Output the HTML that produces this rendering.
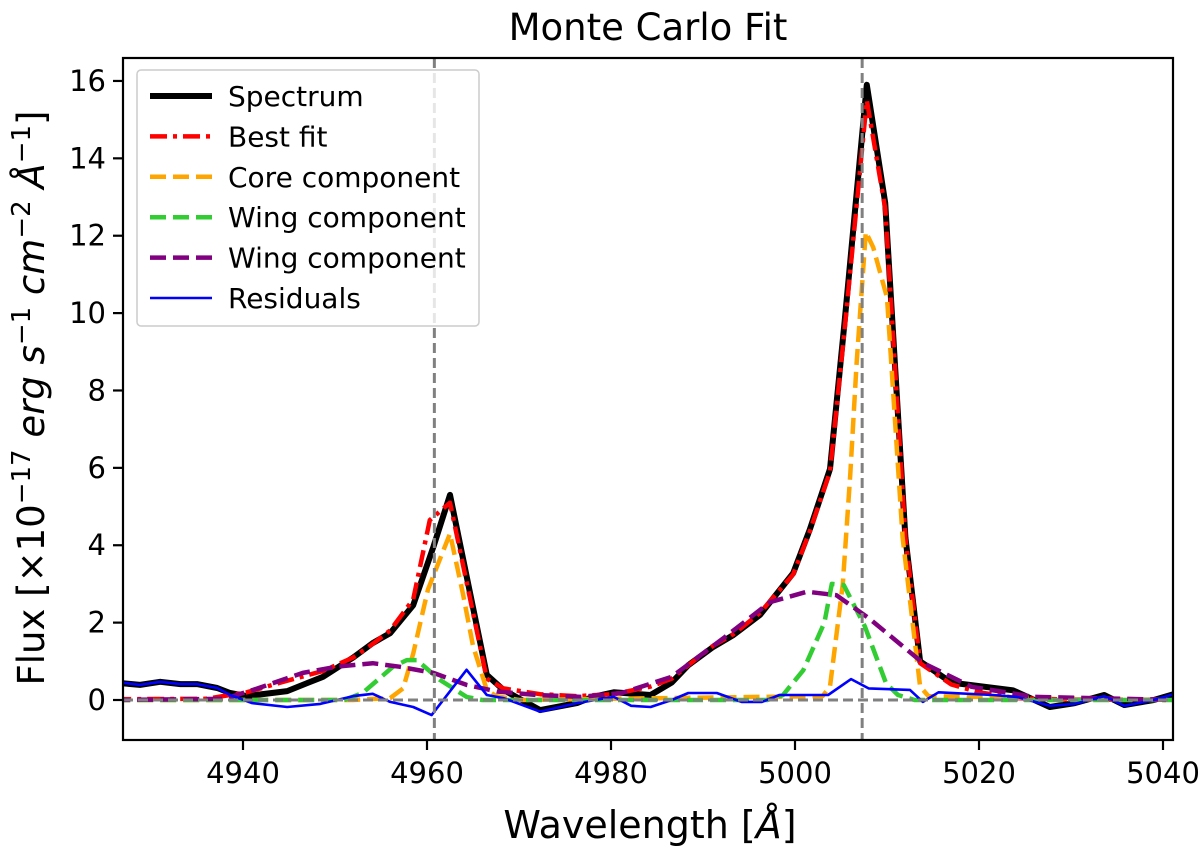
<!DOCTYPE html>
<html><head><meta charset="utf-8"><style>
html,body{margin:0;padding:0;background:#fff;}
svg{display:block;font-family:"DejaVu Sans","Liberation Sans",sans-serif;}
</style></head><body>
<svg id="chart" width="1200" height="851" viewBox="0 0 1200 851">
<text x="648" y="40" font-size="37" text-anchor="middle">Monte Carlo Fit</text>
<g id="plot"></g>
<g id="xticks"></g>
<g id="yticks"></g>
<rect x="123" y="58" width="1050" height="682" fill="none" stroke="#000" stroke-width="2.2"/>
<text x="650" y="838" font-size="38" text-anchor="middle">Wavelength [<tspan font-style="italic">Å</tspan>]</text>
<text transform="translate(44,398) rotate(-90)" font-size="37" text-anchor="middle">Flux [×10<tspan dy="-14" font-size="26">−17</tspan><tspan dy="14" font-style="italic"> erg s</tspan><tspan dy="-14" font-size="26">−1</tspan><tspan dy="14" font-style="italic"> cm</tspan><tspan dy="-14" font-size="26">−2</tspan><tspan dy="14" font-style="italic"> Å</tspan><tspan dy="-14" font-size="26">−1</tspan><tspan dy="14">]</tspan></text>
<g id="legend">
<rect x="137" y="70" width="342" height="256" rx="4" fill="#fff" fill-opacity="0.8" stroke="#ccc" stroke-width="1.5"/>
</g>
</svg>
<script>
const specW=[4926.6,4928.8,4931,4933.2,4935,4937.2,4938.6,4940.4,4944.8,4947,4948.7,4952,4954.1,4956,4958.5,4960.7,4962.5,4966.5,4968.3,4972.3,4976.3,4978,4980.3,4984.3,4986.6,4988.4,4991.1,4993.3,4996.2,4999.8,5001.6,5003.8,5005.4,5007.8,5009.8,5012,5013.6,5017,5023.7,5027.7,5030.4,5033.6,5035.8,5039,5041.6];
const specV=[0.44,0.39,0.47,0.41,0.41,0.31,0.18,0.1,0.23,0.44,0.6,1.1,1.47,1.73,2.45,3.96,5.3,0.65,0.26,-0.26,-0.08,0.08,0.2,0.13,0.45,0.9,1.37,1.68,2.2,3.28,4.4,5.97,9.8,15.9,12.85,4.2,1.0,0.45,0.25,-0.18,-0.08,0.13,-0.13,0,0.18];
const fitW=[4926,4936,4940.4,4944.8,4948.7,4952,4954.1,4956,4958.5,4960.3,4962.5,4966.5,4968.3,4972.3,4976.3,4980.3,4984.3,4986.6,4988.4,4991.1,4993.3,4996.2,4999.8,5001.6,5003.8,5005.4,5007.8,5009.8,5012,5013.6,5017,5020,5024,5030,5042];
const fitV=[0.02,0.03,0.2,0.5,0.75,1.1,1.45,1.8,2.6,4.65,5.1,0.55,0.3,0.15,0.1,0.15,0.35,0.55,0.9,1.4,1.7,2.25,3.25,4.35,5.9,9.6,15.5,12.7,4.2,0.95,0.4,0.2,0.05,0.01,0];
const coreW=[4926,4952,4956,4957.4,4958.5,4960.1,4962.5,4963.9,4965,4966.5,4967.5,4970,5003,5003.8,5005.2,5006,5006.7,5007.7,5008.5,5010,5011.7,5013.6,5014.5,5042];
const coreV=[0,0,0.05,0.3,1.2,2.85,4.3,2.75,1.4,0.26,0.1,0,0.1,0.35,3.0,5.8,8.7,12.1,11.7,10.4,4.2,0.35,0.1,0];
const wingAW=[4926,4951,4953,4956.3,4957.8,4958.9,4961.4,4964.3,4966,4997,4998.7,5000.9,5003.2,5004,5005.3,5007.6,5009.9,5011.2,5013,5042];
const wingAV=[0,0,0.18,0.86,1.03,1.03,0.52,0.08,0,0,0.13,0.77,2.0,3.0,2.97,1.9,0.43,0.13,0,0];
const wingBW=[4926,4938,4941.1,4946.5,4950.2,4954.1,4957,4960.7,4964.3,4967.6,4972,4976.7,4981.2,4986.6,4992.4,4997.3,5001.3,5004.5,5008,5013.9,5019.2,5026,5042];
const wingBV=[0,0.03,0.26,0.7,0.86,0.95,0.86,0.7,0.39,0.22,0.13,0.08,0.18,0.6,1.63,2.53,2.8,2.71,2.12,0.96,0.34,0.08,0];
const resW=[4926.6,4928.8,4931,4933.2,4935,4937.2,4938.6,4941,4944.8,4948.4,4952,4954.1,4956,4958.5,4960.5,4964.3,4966.5,4968.3,4972.3,4976.3,4980.3,4982.2,4984.3,4986.6,4988.4,4991.5,4994.2,4996.4,4998.3,5003.6,5006.1,5008,5012.5,5013.9,5015.6,5021.5,5024.1,5027.7,5030.4,5033.6,5035.8,5039,5041.6];
const resV=[0.46,0.39,0.47,0.41,0.41,0.31,0.13,-0.08,-0.18,-0.1,0.1,0.16,-0.05,-0.18,-0.39,0.78,0.13,0.05,-0.3,-0.08,0.08,-0.15,-0.18,0,0.18,0.18,-0.05,-0.05,0.13,0.13,0.54,0.3,0.26,-0.05,0.2,0.13,0.08,-0.15,-0.1,0.1,-0.15,0,0.18];
const xTicks=[4940,4960,4980,5000,5020,5040];
const yTicks=[0,2,4,6,8,10,12,14,16];
const vLines=[4960.8,5007.3];

const NS='http://www.w3.org/2000/svg';
const X=w=>243+(w-4940)*9.2;
const Y=v=>700-v*38.69;
function mk(tag,attrs,parent){const e=document.createElementNS(NS,tag);for(const k in attrs)e.setAttribute(k,attrs[k]);parent.appendChild(e);return e;}
const plot=document.getElementById('plot');
const clip=mk('clipPath',{id:'cp'},plot);mk('rect',{x:123,y:58,width:1050,height:682},clip);
const g=mk('g',{'clip-path':'url(#cp)'},plot);
function line(ws,vs,color,width,dash,name){
  const p=mk('path',{d:ws.map((w,i)=>(i?'L':'M')+X(w).toFixed(1)+','+Y(vs[i]).toFixed(1)).join(''),fill:'none',stroke:color,'stroke-width':width,'stroke-linejoin':'round'},g);
  if(dash)p.setAttribute('stroke-dasharray',dash);
  
  
}
line(specW,specV,'#000',6,null,'spectrum-line');
line(fitW,fitV,'#ff0000',4.5,'17 6 4 6','best-fit-line');
line(coreW,coreV,'#ffa500',4.5,'16 7','core-component-line');
line(wingAW,wingAV,'#32cd32',4.5,'16 7','wing-component-green-line');
line(wingBW,wingBV,'#800080',4.5,'16 7','wing-component-purple-line');
line(resW,resV,'#0000ff',2.6,null,'residuals-line');
const zl=mk('line',{x1:123,x2:1173,y1:Y(0),y2:Y(0),stroke:'#808080','stroke-width':3,'stroke-dasharray':'10 5'},g);


vLines.forEach(w=>{const l=mk('line',{x1:X(w),x2:X(w),y1:58,y2:740,stroke:'#808080','stroke-width':3,'stroke-dasharray':'10 5'},g);

});
const xt=document.getElementById('xticks');
xTicks.forEach(t=>{mk('line',{x1:X(t),x2:X(t),y1:740,y2:750,stroke:'#000','stroke-width':2.2},xt);
const tx=mk('text',{x:X(t),y:783,'font-size':29,'text-anchor':'middle'},xt);tx.textContent=t;

});
const yt=document.getElementById('yticks');
yTicks.forEach(t=>{mk('line',{x1:113,x2:123,y1:Y(t),y2:Y(t),stroke:'#000','stroke-width':2.2},yt);
const tx=mk('text',{x:106,y:Y(t)+10,'font-size':29,'text-anchor':'end'},yt);tx.textContent=t;

});
const leg=document.getElementById('legend');
const items=[['Spectrum','#000',6,null],['Best fit','#ff0000',4.5,'17 6 4 6'],['Core component','#ffa500',4.5,'16 7'],['Wing component','#32cd32',4.5,'16 7'],['Wing component','#800080',4.5,'16 7'],['Residuals','#0000ff',2.6,null]];
items.forEach((it,i)=>{const y=96+i*40.4;
const l=mk('line',{x1:150,x2:212,y1:y,y2:y,stroke:it[1],'stroke-width':it[2]},leg);if(it[3])l.setAttribute('stroke-dasharray',it[3]);


const t=mk('text',{x:228,y:y+10,'font-size':28},leg);t.textContent=it[0];

});
</script>
</body></html>
